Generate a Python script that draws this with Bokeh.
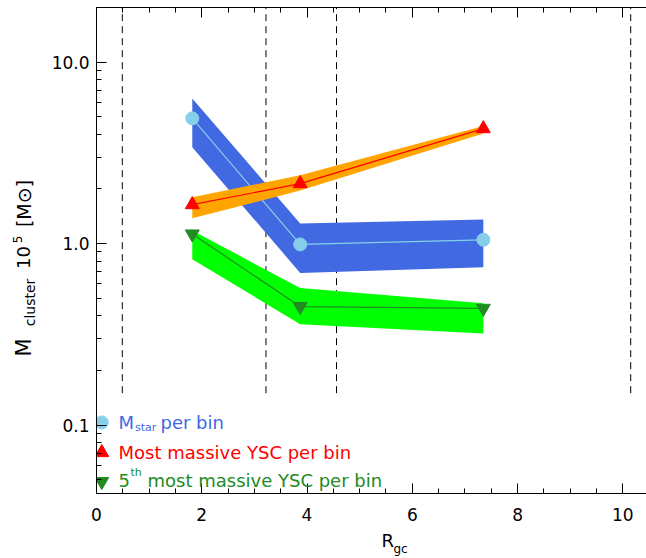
import numpy as np
from bokeh.plotting import figure
from bokeh.layouts import row, column
from bokeh.models import Range1d, FixedTicker, LinearAxis, Label, PrintfTickFormatter
from bokeh.core.properties import value
from bokeh.embed import file_html
from bokeh.resources import INLINE

# ---- data ----
r_gc = [1.82, 3.87, 7.35]
mstar = [4.9, 0.99, 1.05]
mstar_lo = [3.4, 0.69, 0.74]
mstar_hi = [6.3, 1.29, 1.36]
most = [1.64, 2.14, 4.3]
most_lo = [1.38, 1.96, 4.05]
most_hi = [1.80, 2.38, 4.45]
fifth = [1.13, 0.45, 0.44]
fifth_lo = [0.82, 0.36, 0.32]
fifth_hi = [1.18, 0.57, 0.47]
bin_edges = [0.49, 3.22, 4.56, 10.15]
edge_bottom = 0.15
edge_top = 20.0
x_major = [0, 2, 4, 6, 8, 10]
x_minor = [i * 0.5 for i in range(0, 22)]
y_major = [0.1, 1.0, 10.0]
y_minor = [0.05, 0.06, 0.07, 0.08, 0.09] + [k / 10 for k in range(2, 10)] + [float(k) for k in range(2, 10)]
legend_x = 0.10
legend_y = [0.1035, 0.0706, 0.0489]

FONT = "DejaVu Sans"

YLAB_W = 40
MAIN_W = 606
MAIN_H = 528
XLAB_H = 30
TOTAL_H = MAIN_H + XLAB_H

p = figure(width=MAIN_W, height=MAIN_H, x_range=Range1d(0, 10.45), y_range=Range1d(0.042, 20),
           y_axis_type="log", output_backend="svg", toolbar_location=None,
           min_border_left=56, min_border_right=0, min_border_top=7, min_border_bottom=35)
p.outline_line_color = None
p.xgrid.visible = False
p.ygrid.visible = False
p.background_fill_color = "white"

def style_axis(ax, ticks, minor):
    ax.ticker = FixedTicker(ticks=ticks, minor_ticks=minor)
    ax.major_tick_in = 10
    ax.major_tick_out = 0
    ax.minor_tick_in = 5
    ax.minor_tick_out = 0
    ax.axis_line_color = "black"
    ax.major_tick_line_color = "black"
    ax.minor_tick_line_color = "black"
    ax.major_label_text_font = FONT
    ax.major_label_text_font_size = "17px"
    ax.major_label_text_color = "black"

style_axis(p.xaxis[0], x_major, x_minor)
p.xaxis[0].major_label_standoff = 14
style_axis(p.yaxis[0], y_major, y_minor)
p.yaxis[0].formatter = PrintfTickFormatter(format="%.1f")
p.yaxis[0].major_label_standoff = 7

top = LinearAxis()
style_axis(top, x_major, x_minor)
top.major_label_text_font_size = "1px"
top.major_label_text_alpha = 0
top.major_label_standoff = 0
p.add_layout(top, "above")

# dashed bin edges
p.segment(x0=bin_edges, y0=[edge_bottom] * len(bin_edges), x1=bin_edges, y1=[edge_top] * len(bin_edges),
          line_color="black", line_width=1, line_dash="7 5")

# bands, lines, markers
p.varea(x=r_gc, y1=mstar_lo, y2=mstar_hi, fill_color="#4169E1")
p.line(r_gc, mstar, line_color="#87CEEB", line_width=1.2)
p.scatter(r_gc, mstar, marker="circle", size=13, fill_color="#87CEEB", line_color="#87CEEB")

p.varea(x=r_gc, y1=most_lo, y2=most_hi, fill_color="#FFA500")
p.line(r_gc, most, line_color="#FF0000", line_width=1.2)
p.scatter(r_gc, most, marker="triangle", size=14, fill_color="#FF0000", line_color="#FF0000")

p.varea(x=r_gc, y1=fifth_lo, y2=fifth_hi, fill_color="#00FF00")
p.line(r_gc, fifth, line_color="#228B22", line_width=1.2)
p.scatter(r_gc, fifth, marker="inverted_triangle", size=14, fill_color="#228B22", line_color="#228B22")

# legend markers
p.scatter([legend_x], [legend_y[0]], marker="circle", size=13, fill_color="#87CEEB", line_color="#87CEEB")
p.scatter([legend_x], [legend_y[1]], marker="triangle", size=14, fill_color="#FF0000", line_color="#FF0000")
p.scatter([legend_x], [legend_y[2]], marker="inverted_triangle", size=14, fill_color="#228B22", line_color="#228B22")

def lab(text, x, y, size, color="black"):
    p.add_layout(Label(text=text, x=x, y=y, x_units="screen", y_units="screen",
                       text_font=FONT, text_font_size=f"{size}px", text_color=color,
                       text_align="left", text_baseline="middle"))

# legend texts (frame-relative pixels)
lab("M", 22, 71.3, 18, "#4169E1")
lab("star", 38.5, 66, 11, "#4169E1")
lab("per bin", 64, 71.3, 18, "#4169E1")
lab("Most massive YSC per bin", 22, 41.3, 18, "#FF0000")
lab("5", 22, 13, 18, "#228B22")
lab("th", 34, 21, 11, "#228B22")
lab("most massive YSC per bin", 51, 13, 18, "#228B22")

def text_fig(w, h):
    f = figure(width=w, height=h, x_range=Range1d(0, w), y_range=Range1d(0, h),
               output_backend="svg", toolbar_location=None,
               x_axis_location=None, y_axis_location=None,
               min_border=0, min_border_left=0, min_border_right=0, min_border_top=0, min_border_bottom=0)
    f.outline_line_color = None
    f.xgrid.visible = False
    f.ygrid.visible = False
    return f

# x axis label: R_gc
xl = text_fig(MAIN_W, XLAB_H)
xl.text(x=[321], y=[18], text=["R"], text_font=value(FONT), text_font_size=value("18px"),
        text_align="center", text_baseline="middle", text_color="black")
xl.text(x=[335], y=[10], text=["gc"], text_font=value(FONT), text_font_size=value("12px"),
        text_align="center", text_baseline="middle", text_color="black")

# y axis label: M_cluster 10^5 [M_sun], rotated
yl = text_fig(YLAB_W, TOTAL_H)
A = np.pi / 2
ylab_parts = [("M", 23, 211, "21px"), ("cluster", 29, 256, "14px"), ("10", 23, 301, "18px"),
              ("5", 17, 319, "12px"), ("[M⊙]", 23, 355, "19px")]
for t, xx, yy, fs in ylab_parts:
    yl.text(x=[xx], y=[yy], text=[t], text_font=value(FONT), text_font_size=value(fs),
            text_align="center", text_baseline="middle", text_color="black", angle=A)

layout = row(yl, column(p, xl, spacing=0), spacing=0)
open("out.html", "w").write(file_html(layout, INLINE))
